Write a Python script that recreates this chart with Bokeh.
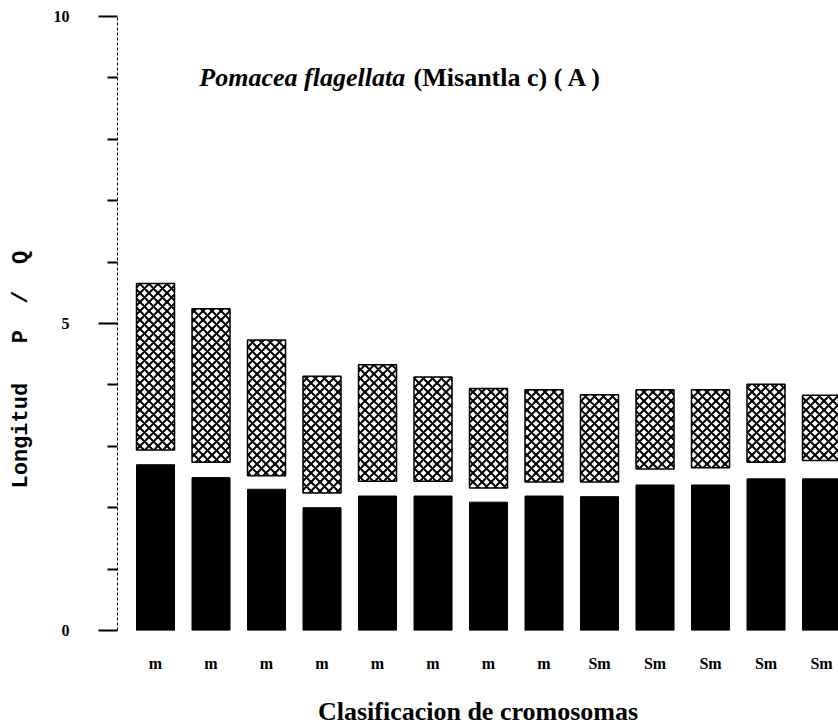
from bokeh.plotting import figure
from bokeh.models import Range1d, FixedTicker, ColumnDataSource, Label
from bokeh.embed import file_html
from bokeh.resources import INLINE

# ---- data ----
chromosomes = [1, 2, 3, 4, 5, 6, 7, 8, 9, 10, 11, 12, 13]
classes = ["m", "m", "m", "m", "m", "m", "m", "m", "Sm", "Sm", "Sm", "Sm", "Sm"]
q_arm = [2.70, 2.49, 2.30, 2.00, 2.19, 2.19, 2.09, 2.19, 2.18, 2.37, 2.37, 2.47, 2.47]
p_base = [2.94, 2.74, 2.52, 2.24, 2.43, 2.43, 2.32, 2.42, 2.42, 2.63, 2.65, 2.74, 2.77]
p_top = [5.65, 5.24, 4.73, 4.14, 4.33, 4.13, 3.94, 3.92, 3.84, 3.92, 3.92, 4.01, 3.83]
y_major = [0, 5, 10]
y_minor = [1, 2, 3, 4, 6, 7, 8, 9]

src = ColumnDataSource(dict(x=chromosomes, q=q_arm, pb=p_base, pt=p_top))

p = figure(width=838, height=728, output_backend="svg", toolbar_location=None,
           x_range=Range1d(0.315, 13.306), y_range=Range1d(0, 10),
           min_border_left=117, min_border_right=0, min_border_top=16,
           min_border_bottom=98, background_fill_color="white",
           border_fill_color="white")
p.outline_line_color = None
p.grid.visible = False

BW = 0.685
p.vbar(x="x", bottom=0, top="q", width=BW, source=src,
       fill_color="black", line_color="black", line_width=1)
p.vbar(x="x", bottom="pb", top="pt", width=BW, source=src,
       fill_color="white", line_color="black", line_width=1.5,
       hatch_pattern="x", hatch_color="black", hatch_scale=9, hatch_weight=2)

# y axis
ya = p.yaxis[0]
ya.ticker = FixedTicker(ticks=y_major, minor_ticks=y_minor)
ya.axis_line_color = "black"
ya.axis_line_width = 1
ya.axis_line_dash = "3 2"
ya.major_tick_in = 0
ya.major_tick_out = 19
ya.major_tick_line_width = 2
ya.minor_tick_in = 0
ya.minor_tick_out = 10
ya.minor_tick_line_width = 2
ya.major_label_standoff = 29
ya.major_label_text_font = "Liberation Serif"
ya.major_label_text_font_style = "bold"
ya.major_label_text_font_size = "16px"
ya.major_label_text_color = "black"
nb = "\u00a0"
ya.axis_label = "Longitud" + nb * 3 + "P" + nb * 2 + "/" + nb * 2 + "Q" + nb * 7
ya.axis_label_text_font = "Liberation Mono"
ya.axis_label_text_font_style = "bold"
ya.axis_label_text_font_size = "22px"
ya.axis_label_text_color = "black"
ya.axis_label_standoff = 17

# x axis
xa = p.xaxis[0]
xa.ticker = FixedTicker(ticks=chromosomes, minor_ticks=[])
xa.major_label_overrides = {c: lab for c, lab in zip(chromosomes, classes)}
xa.axis_line_color = None
xa.major_tick_line_color = None
xa.minor_tick_line_color = None
xa.major_tick_out = 0
xa.major_tick_in = 0
xa.major_label_standoff = 24
xa.major_label_text_font = "Liberation Serif"
xa.major_label_text_font_style = "bold"
xa.major_label_text_font_size = "16px"
xa.major_label_text_color = "black"
xa.axis_label = "Clasificacion de cromosomas"
xa.axis_label_text_font = "Liberation Serif"
xa.axis_label_text_font_style = "bold"
xa.axis_label_text_font_size = "26px"
xa.axis_label_text_color = "black"
xa.axis_label_standoff = 22

# title inside the plot
t1 = Label(x=1.79, y=9.0, text="Pomacea flagellata", text_font="Liberation Serif",
           text_font_style="bold italic", text_font_size="26px",
           text_baseline="alphabetic", text_align="left", text_color="black")
t2 = Label(x=5.65, y=9.0, text="(Misantla c) ( A )", text_font="Liberation Serif",
           text_font_style="bold", text_font_size="26px",
           text_baseline="alphabetic", text_align="left", text_color="black")
p.add_layout(t1)
p.add_layout(t2)

open("out.html", "w").write(file_html(p, INLINE))
